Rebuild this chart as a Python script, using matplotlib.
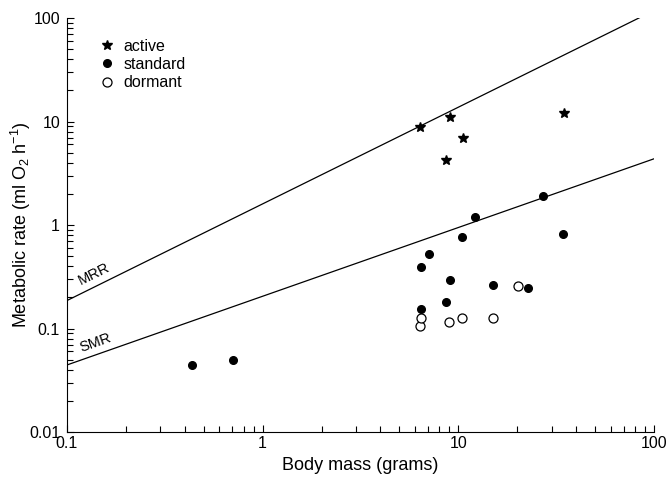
import numpy as np
import matplotlib
matplotlib.use('Agg')
import matplotlib.pyplot as plt
from matplotlib.lines import Line2D

plt.rcParams['font.family'] = ['Liberation Sans', 'DejaVu Sans']
plt.rcParams['mathtext.fontset'] = 'custom'
plt.rcParams['mathtext.rm'] = 'Liberation Sans'
plt.rcParams['mathtext.it'] = 'Liberation Sans:italic'

# data
active_mass = [6.4, 9.1, 10.6, 8.7, 34.7]
active_rate = [8.8, 11.1, 7.0, 4.25, 12.0]

standard_mass = [0.435, 0.705, 6.44, 6.44, 7.1, 8.7, 9.06, 10.5, 12.2, 15.1, 22.6, 27.2, 34.4]
standard_rate = [0.044, 0.0497, 0.155, 0.395, 0.52, 0.18, 0.294, 0.76, 1.19, 0.261, 0.246, 1.91, 0.81]

dormant_mass = [6.39, 6.44, 8.98, 10.5, 15.1, 20.2]
dormant_rate = [0.106, 0.125, 0.116, 0.125, 0.125, 0.258]

# allometric lines: rate = a * mass^b
mrr_a, mrr_b = 1.6, 0.934
smr_a, smr_b = 0.205, 0.664

fig = plt.figure(figsize=(6.67, 4.84), dpi=100)
ax = fig.add_axes([0.1004, 0.1074, 0.8801, 0.8554])

ax.set_xscale('log')
ax.set_yscale('log')
ax.set_xlim(0.1, 100)
ax.set_ylim(0.01, 100)

m = np.logspace(-1, 2, 200)
ax.plot(m, mrr_a * m ** mrr_b, color='black', lw=0.9)
ax.plot(m, smr_a * m ** smr_b, color='black', lw=0.9)

star_ms = 7.5
ax.plot(active_mass, active_rate, ls='none', marker='*', ms=star_ms, color='black')
ax.plot(standard_mass, standard_rate, ls='none', marker='o', ms=5.5, color='black')
ax.plot(dormant_mass, dormant_rate, ls='none', marker='o', ms=6.5,
        mfc='white', mec='black', mew=0.9)

# line labels rotated along the lines
bbox = ax.get_position()
w_px = bbox.width * fig.get_figwidth() * fig.dpi / 3.0
h_px = bbox.height * fig.get_figheight() * fig.dpi / 4.0
for name, a, b in [('MRR', mrr_a, mrr_b), ('SMR', smr_a, smr_b)]:
    ang = np.degrees(np.arctan(b * h_px / w_px))
    x0 = 0.12
    ax.text(x0, a * x0 ** b * 1.12, name, rotation=ang, rotation_mode='anchor',
            ha='left', va='bottom', fontsize=10.5)

handles = [
    Line2D([], [], ls='none', marker='*', ms=star_ms, color='black'),
    Line2D([], [], ls='none', marker='o', ms=5.5, color='black'),
    Line2D([], [], ls='none', marker='o', ms=6.5, mfc='white', mec='black', mew=0.9),
]
ax.legend(handles, ['active', 'standard', 'dormant'], loc='upper left',
          bbox_to_anchor=(0.047, 0.965), frameon=False, fontsize=11.5,
          handlelength=0.8, handletextpad=0.6, labelspacing=0.2, borderaxespad=0)

ax.set_xticks([0.1, 1, 10, 100])
ax.set_xticklabels(['0.1', '1', '10', '100'])
ax.set_yticks([0.01, 0.1, 1, 10, 100])
ax.set_yticklabels(['0.01', '0.1', '1', '10', '100'])
ax.tick_params(which='both', direction='in', labelsize=11.5, width=0.8)
ax.tick_params(which='major', length=5)
ax.tick_params(axis='x', which='major', pad=3)
ax.tick_params(axis='y', which='major', pad=5)
ax.tick_params(which='minor', length=4)

for s in ['top', 'right']:
    ax.spines[s].set_visible(False)
for s in ['left', 'bottom']:
    ax.spines[s].set_linewidth(0.8)

ax.set_xlabel('Body mass (grams)', fontsize=13, labelpad=4)
ax.set_ylabel('Metabolic rate (ml O$_2$ h$^{-1}$)', fontsize=13, labelpad=-3)

fig.savefig('out.png', dpi=100)
